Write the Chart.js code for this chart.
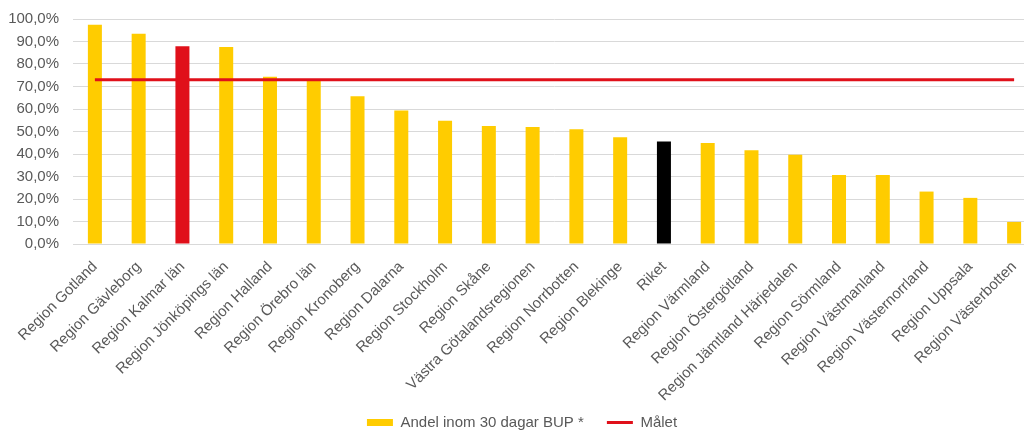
<!DOCTYPE html>
<html>
<head>
<meta charset="utf-8">
<script src="https://cdn.jsdelivr.net/npm/chart.js@4/dist/chart.umd.min.js"></script>
<style>
  html, body { margin: 0; padding: 0; background: #fff; overflow: hidden; }
  #wrap { width: 1048px; height: 430px; position: relative; }
</style>
</head>
<body>
<div id="wrap"><canvas id="c" width="1048" height="430"></canvas></div>
<script>
const categories = [
  "Region Gotland", "Region Gävleborg", "Region Kalmar län", "Region Jönköpings län",
  "Region Halland", "Region Örebro län", "Region Kronoberg", "Region Dalarna",
  "Region Stockholm", "Region Skåne", "Västra Götalandsregionen", "Region Norrbotten",
  "Region Blekinge", "Riket", "Region Värmland", "Region Östergötland",
  "Region Jämtland Härjedalen", "Region Sörmland", "Region Västmanland",
  "Region Västernorrland", "Region Uppsala", "Region Västerbotten"
];
const andelValues = [
  97.4, 93.4, 87.9, 87.6, 74.3, 73.3, 65.7, 59.3, 54.8, 52.5, 52.0,
  51.0, 47.4, 45.6, 44.9, 41.7, 39.7, 30.7, 30.7, 23.3, 20.5, 9.8
];
const maletValue = 73.0;
const maletValues = categories.map(() => maletValue);
const yTicks = [0, 10, 20, 30, 40, 50, 60, 70, 80, 90, 100];

const seriesNames = ["Andel inom 30 dagar BUP *", "Målet"];
const highlightOwn = "Region Kalmar län";
const highlightNation = "Riket";

const YELLOW = "#FFCC00";
const RED = "#E0101A";
const BLACK = "#000000";
const TEXT = "#595959";
const GRID = "#D9D9D9";

const barColors = categories.map(c => c === highlightOwn ? RED : (c === highlightNation ? BLACK : YELLOW));

Chart.defaults.font.family = "'Liberation Sans', Arial, sans-serif";
Chart.defaults.font.size = 15;
Chart.defaults.color = TEXT;

// let rotated category labels use the space down to the canvas bottom (avoid clipping at legend top)
const labelRoom = {
  id: "labelRoom",
  afterLayout(chart) { chart.scales.x.bottom = chart.height; }
};

new Chart(document.getElementById("c"), {
  plugins: [labelRoom],
  data: {
    labels: categories,
    datasets: [
      {
        type: "bar",
        label: seriesNames[0],
        data: andelValues,
        backgroundColor: barColors,
        borderWidth: 0,
        categoryPercentage: 1.0,
        barPercentage: 0.32,
        order: 2,
        pointStyle: "rect"
      },
      {
        type: "line",
        label: seriesNames[1],
        data: maletValues,
        borderColor: RED,
        backgroundColor: RED,
        borderWidth: 3,
        pointRadius: 0,
        tension: 0,
        order: 1,
        pointStyle: "line"
      }
    ]
  },
  options: {
    responsive: false,
    animation: false,
    devicePixelRatio: 1,
    layout: { padding: { left: 8, right: 12, top: 19, bottom: -10 } },
    plugins: {
      tooltip: { enabled: false },
      legend: {
        position: "bottom",
        labels: {
          usePointStyle: true,
          pointStyleWidth: 26,
          boxHeight: 7,
          padding: 23,
          color: TEXT,
          font: { size: 15 },
          sort: (a, b) => a.datasetIndex - b.datasetIndex
        }
      }
    },
    scales: {
      x: {
        offset: true,
        grid: { display: false },
        border: { display: true, color: GRID },
        ticks: {
          minRotation: 45,
          maxRotation: 45,
          autoSkip: false,
          color: TEXT,
          padding: 6,
          font: { size: 15 }
        },
        afterFit: (scale) => { scale.height = 148; }
      },
      y: {
        min: 0,
        max: 100,
        afterBuildTicks: (scale) => { scale.ticks = yTicks.map(v => ({ value: v })); },
        grid: { color: GRID, lineWidth: 1, drawTicks: false },
        border: { display: false },
        ticks: {
          padding: 14,
          color: TEXT,
          font: { size: 15 },
          callback: (v) => v.toFixed(1).replace(".", ",") + "%"
        },
        afterFit: (scale) => { scale.width = 65; scale.paddingTop = 0; scale.paddingBottom = 0; }
      }
    }
  }
});
</script>
</body>
</html>
